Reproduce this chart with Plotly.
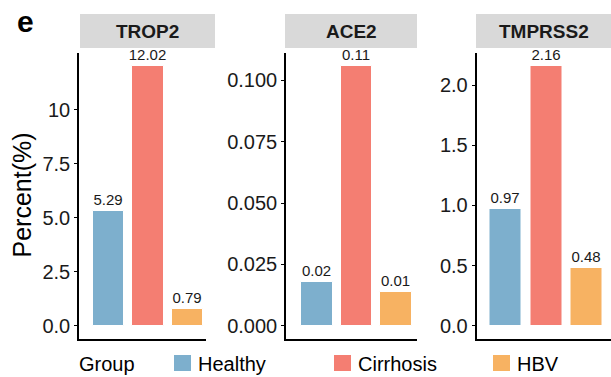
import plotly.graph_objects as go

W, H = 611, 377

groups = ["Healthy", "Cirrhosis", "HBV"]
colors = ["#7DAFCD", "#F47E72", "#F7B262"]

genes = ["TROP2", "ACE2", "TMPRSS2"]
trop2 = [5.29, 12.02, 0.79]
ace2 = [0.0177, 0.1059, 0.0139]
tmprss2 = [0.97, 2.16, 0.48]
values = [trop2, ace2, tmprss2]

trop2_ticks = [0, 2.5, 5, 7.5, 10]
trop2_ticktext = ["0.0", "2.5", "5.0", "7.5", "10"]
ace2_ticks = [0, 0.025, 0.05, 0.075, 0.1]
ace2_ticktext = ["0.000", "0.025", "0.050", "0.075", "0.100"]
tmprss2_ticks = [0, 0.5, 1.0, 1.5, 2.0]
tmprss2_ticktext = ["0.0", "0.5", "1.0", "1.5", "2.0"]
tickvals = [trop2_ticks, ace2_ticks, tmprss2_ticks]
ticktexts = [trop2_ticktext, ace2_ticktext, tmprss2_ticktext]

FONT = "Liberation Sans, Arial, sans-serif"

def px(x):
    return x / W

def py(y):
    return 1 - y / H

# layout (pixel) geometry of each panel
panel_x = [(79, 206), (286, 417), (476.5, 611)]
strip_x = [(80, 215), (285, 417), (476, 611)]
x_ranges = [(-0.747, 2.468), (-0.785, 2.53), (-0.721, 2.6)]
y_dom = [py(338.7), py(53)]

fig = go.Figure()
for i, (gene, vals) in enumerate(zip(genes, values)):
    ax = "" if i == 0 else str(i + 1)
    fig.add_trace(go.Bar(
        x=groups, y=vals,
        marker=dict(color=colors, line=dict(color="white", width=1)),
        width=0.8,
        texttemplate="%{y:.2f}", textposition="outside", constraintext="none",
        textfont=dict(size=15, color="#1a1a1a", family=FONT),
        cliponaxis=False, showlegend=False, hoverinfo="skip",
        xaxis="x" + ax, yaxis="y" + ax,
    ))
    vmax = max(vals)
    xa = dict(domain=[px(panel_x[i][0]), px(panel_x[i][1])],
              range=list(x_ranges[i]), showticklabels=False, ticks="",
              showline=True, linecolor="black", linewidth=1.6,
              showgrid=False, zeroline=False, automargin=False,
              anchor="y" + ax, fixedrange=True)
    ya = dict(domain=y_dom, range=[-0.05 * vmax, 1.05 * vmax],
              tickvals=tickvals[i], ticktext=ticktexts[i],
              ticks="outside", ticklen=3, tickwidth=1.4, tickcolor="black",
              tickfont=dict(size=20, color="#1a1a1a", family=FONT),
              showline=True, linecolor="black", linewidth=1.6,
              showgrid=False, zeroline=False, automargin=False,
              anchor="x" + ax, fixedrange=True)
    fig.update_layout(**{"xaxis" + ax: xa, "yaxis" + ax: ya})
    # facet strip
    fig.add_shape(type="rect", xref="paper", yref="paper",
                  x0=px(strip_x[i][0]), x1=px(strip_x[i][1]),
                  y0=py(48), y1=py(14), fillcolor="#D9D9D9",
                  line=dict(width=0), layer="below")
    fig.add_annotation(text="<b>" + gene + "</b>", xref="paper", yref="paper",
                       x=px((strip_x[i][0] + strip_x[i][1]) / 2), y=py(31),
                       xanchor="center", yanchor="middle", showarrow=False,
                       font=dict(size=19, color="#1a1a1a", family=FONT))

# panel letter and y title
fig.add_annotation(text="<b>e</b>", xref="paper", yref="paper", x=px(25), y=py(21),
                   xanchor="center", yanchor="middle", showarrow=False,
                   font=dict(size=30, color="black", family=FONT))
fig.add_annotation(text="Percent(%)", xref="paper", yref="paper", x=px(21.5), y=py(195),
                   xanchor="center", yanchor="middle", textangle=-90, showarrow=False,
                   font=dict(size=25, color="black", family=FONT))

# legend drawn manually
fig.add_annotation(text="Group", xref="paper", yref="paper", x=px(77), y=py(364),
                   xanchor="left", yanchor="middle", showarrow=False,
                   font=dict(size=20, color="black", family=FONT))
key_x = [174, 334, 493]
for g, c, kx in zip(groups, colors, key_x):
    fig.add_shape(type="rect", xref="paper", yref="paper",
                  x0=px(kx), x1=px(kx + 17), y0=py(371), y1=py(355),
                  fillcolor=c, line=dict(width=0))
    fig.add_annotation(text=g, xref="paper", yref="paper", x=px(kx + 22), y=py(364),
                       xanchor="left", yanchor="middle", showarrow=False,
                       font=dict(size=20, color="black", family=FONT))

fig.update_layout(width=W, height=H, margin=dict(l=0, r=0, t=0, b=0),
                  plot_bgcolor="white", paper_bgcolor="white",
                  font=dict(family=FONT), bargap=0, hovermode=False)
fig.write_html("out.html", config={"displayModeBar": False},
               post_script="document.body.style.margin='0px';document.body.style.overflow='hidden';")
